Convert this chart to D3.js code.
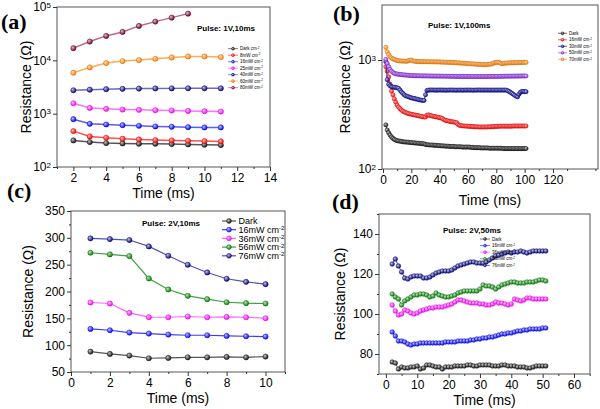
<!DOCTYPE html>
<html><head><meta charset="utf-8">
<script src="https://cdn.jsdelivr.net/npm/d3@7"></script>
<style>
body{margin:0;background:#fff}
svg{display:block}
text{font-family:"Liberation Sans",Arial,sans-serif;fill:#000}
</style>
</head><body>
<svg id="c" width="600" height="409"></svg>
<script>
// ---------------- DATA ----------------
// Panel (a): Pulse 1V,10ms (log scale)
const timeA = [2,3,4,5,6,7,8,9,10,11];
const labelsA = ["Dark","8mW","16mW","25mW","40mW","60mW","80mW"];
const aDark = [315,293,281,277,273,273,269,265,262,258];
const a8  = [471,374,353,339,329,320,315,310,306,302];
const a16 = [789,645,627,609,592,575,567,559,551,551];
const a25 = [1568,1282,1230,1195,1178,1161,1145,1128,1112,1096];
const a40 = [2750,2820,2880,2920,2950,2970,2980,2990,2990,2990];
const a60 = [5860,7370,8880,9680,10100,10700,11330,11830,11830,11490];
const a80 = [16900,22500,28700,34100,44200,53200,63200,75100];
const xTicksA = [2,4,6,8,10,12,14];
const yTicksA = [100,1000,10000,100000];

// Panel (b): Pulse 1V,100ms (log scale), t = 2..101 ms
const timeB = d3.range(2,102);
const labelsB = ["Dark","16mW cm","30mW cm","50mW cm","70mW cm"];
const bDark = [254,228,215,205,197,191,187,184,182,181,
 180,179,178,177,177,176,176,175,175,174,
 174,173,173,172,172,171,171,170,168,167,
 167,166,166,166,165,165,165,164,164,163,
 163,163,162,162,162,161,161,161,161,160,
 160,160,160,160,159,159,159,159,159,159,
 158,158,157,157,157,157,157,156,156,156,
 156,156,156,155,155,155,155,155,155,155,
 155,155,155,154,154,154,154,154,154,154,
 154,154,154,154,154,154,154,154,154,154];
const b16 = [869,790,700,600,520,480,440,410,385,370,
 358,348,340,334,330,326,322,320,318,316,
 314,312,310,308,306,304,302,300,300,312,
 314,310,308,306,304,302,300,298,296,294,
 290,284,280,278,276,274,272,271,270,268,
 266,256,252,250,249,248,248,247,247,246,
 246,245,245,244,244,244,243,243,243,243,
 243,243,244,244,244,245,245,246,246,246,
 247,247,247,247,247,247,247,247,247,247,
 248,248,248,248,248,248,248,248,248,248];
const b30 = [966,660,600,580,570,565,562,560,556,550,
 530,510,495,480,470,465,460,455,450,446,
 444,440,438,434,430,428,426,426,480,525,
 530,530,531,531,530,530,529,530,531,530,
 530,530,529,529,530,530,531,530,530,529,
 529,530,530,530,529,529,530,530,530,530,
 530,529,529,530,530,530,531,530,530,530,
 530,530,530,530,530,530,530,530,530,530,
 530,530,530,530,530,530,524,515,505,495,
 485,475,465,460,485,505,515,515,513,512];
const b50 = [1014,930,870,820,790,770,755,748,745,740,
 738,735,732,730,728,726,724,722,720,719,
 718,718,717,717,716,716,715,715,715,714,
 714,714,713,713,713,712,712,712,712,711,
 711,711,710,710,710,710,709,709,709,708,
 708,708,708,707,707,707,707,707,707,706,
 706,706,706,706,706,706,706,706,706,706,
 706,706,707,707,707,707,707,708,708,708,
 708,709,709,709,710,710,710,711,711,711,
 712,712,712,713,713,713,714,714,714,714];
const b70 = [1306,1190,1120,1072,1045,1025,1014,1000,990,985,
 982,980,978,976,975,974,990,998,1000,985,
 975,972,970,969,968,967,966,966,965,965,
 964,964,963,963,962,962,961,961,960,958,
 957,956,955,954,952,951,950,949,948,946,
 944,942,940,938,936,934,932,930,928,926,
 924,922,920,918,916,914,912,910,908,908,
 908,910,912,915,918,920,940,945,950,955,
 950,935,925,930,935,938,940,942,943,944,
 945,946,947,948,949,950,950,951,952,952];
const xTicksB = [0,20,40,60,80,100,120];
const yTicksB = [100,1000];

// Panel (c): Pulse 2V,10ms
const timeC = [1,2,3,4,5,6,7,8,9,10];
const labelsC = ["Dark","16mW cm","36mW cm","56mW cm","76mW cm"];
const cDark = [88,83.7,80.6,75.6,76.2,77.4,77.4,78,77.4,78.7];
const c16 = [130.3,127.8,123.5,121.6,119.8,118.5,118.5,117.3,116.6,116];
const c36 = [179.5,177.6,160.2,152.1,152,153.4,152,152.7,152,150.2];
const c56 = [272.2,269.1,266,224.3,203.8,192,185.7,180,178.3,177.6];
const c76 = [299,297.7,295.9,284,266.6,249.8,235.5,223.7,218,213.7];
const xTicksC = [0,2,4,6,8,10];
const yTicksC = [50,100,150,200,250,300,350];

// Panel (d): Pulse 2V,50ms, t = 2..51 ms
const timeD = d3.range(2,52);
const labelsD = ["Dark","16mW cm","36mW cm","56mW cm","76mW cm"];
const dDark = [76,75.5,72.5,73.5,73,73,73.5,73.5,74,72.5,
 73,74.5,74.5,74,73.5,73.5,72.5,73.5,73.5,73.5,
 74,74,74,74,74.5,74.5,74,74,74.5,74.5,
 74.5,74.5,74,74,74,74.5,74.5,74,74,74,
 73.5,73.5,73.5,73,73,73.5,74,74,74,74];
const d16 = [91,89,86.5,86.5,86,85,84.5,85,85,85.5,
 85.5,85.5,85.5,85.5,85.5,85.5,85.5,86,86,86,
 86,86.5,86.5,86.5,86.5,87,87,87.5,87.5,88,
 88,88.5,88.5,89,89.5,90,90,90.5,90.5,91,
 91.5,91.5,92,92,92.5,92.5,92.5,92.5,93,93];
const d36 = [104.5,101.5,99.5,100,102,101.5,100.5,100,100.5,101.5,
 102,102.5,103,103,103.5,103.5,103.5,104,104.5,105,
 106,107,107,106.5,106,105.5,105.5,105.5,105,105,
 104.5,104.5,105,106,105.5,105.5,105,104.5,105,107.5,
 107,106.5,107,108,108,107.5,107.5,107.5,107.5,107.5];
const d56 = [110,108.5,107.5,104.5,106.5,107.5,108.5,109.5,109.5,110,
 110,109.5,108.5,109,110.5,109.5,109,108.5,108.5,109,
 109.5,110.5,111,111.5,111.5,111.5,111.5,111.5,112.5,114.5,
 114,114,113.5,112.5,113.5,114.5,115,115.5,116,116,
 115.5,115.5,115.5,116,116,116,116.5,117,117,116.5];
const d76 = [125,127.5,124,121,118,117.5,118.5,119,119,119,
 118,118,118.5,119.5,120.5,121,121.5,121.5,121.5,122,
 123,124,124.5,125,125.5,126,126,125.5,125.5,125.5,
 126,127,128,129,129.5,130,130.5,131,130.5,131,
 131,131.5,131,130.5,131,131.5,131.5,131.5,131.5,131.5];
const xTicksD = [0,10,20,30,40,50,60];
const yTicksD = [80,100,120,140];

// ---------------- DRAW ----------------
const svg = d3.select("#c");
const defs = svg.append("defs");
function grad(color){
  const id = "g" + color.replace("#","");
  if (defs.select("#"+id).empty()){
    const g = defs.append("radialGradient").attr("id",id)
      .attr("cx","35%").attr("cy","35%").attr("r","70%");
    g.append("stop").attr("offset","0%").attr("stop-color", d3.interpolateRgb(color,"#fff")(0.75));
    g.append("stop").attr("offset","100%").attr("stop-color", color);
  }
  return "url(#"+id+")";
}
function marker(sel, color, r){
  sel.attr("r", r).attr("fill", grad(color))
    .attr("stroke", d3.color(color).darker(0.6)).attr("stroke-width", 0.5);
}
function supText(t, base, sup, supSize){
  t.append("tspan").text(base);
  t.append("tspan").attr("dy","-0.45em").attr("font-size", supSize).text(sup);
}

function panel(p){
  const g = svg.append("g");
  const x = d3.scaleLinear().domain(p.xDomain).range(p.xRange);
  const y = (p.log ? d3.scaleLog() : d3.scaleLinear()).domain(p.yDomain).range(p.yRange);

  // series
  p.series.forEach(s => {
    const pts = s.values.map((v,i) => [s.times[i], v]);
    g.append("path").datum(pts)
      .attr("d", d3.line().x(d => x(d[0])).y(d => y(d[1])))
      .attr("fill","none").attr("stroke", s.line).attr("stroke-width", p.lw);
    g.append("g").selectAll("circle").data(pts).join("circle")
      .attr("cx", d => x(d[0])).attr("cy", d => y(d[1]))
      .call(marker, s.color, p.r);
  });

  // frame
  const [x0,x1] = p.xRange, [y0,y1] = p.yRange;
  g.append("rect").attr("x",x0).attr("y",y1).attr("width",x1-x0).attr("height",y0-y1)
    .attr("fill","none").attr("stroke","#555").attr("stroke-width",1);

  // axes
  g.append("g").attr("transform",`translate(0,${y0})`)
    .call(d3.axisBottom(x).tickValues(p.xTicks).tickSize(4).tickPadding(2).tickFormat(d3.format("d")));
  g.append("g").attr("transform",`translate(0,${y0})`)
    .call(d3.axisBottom(x).tickValues(p.xMinor).tickSize(2).tickFormat(""));
  const ya = g.append("g").attr("transform",`translate(${x0},0)`)
    .call(d3.axisLeft(y).tickValues(p.yTicks).tickSize(4).tickPadding(2)
      .tickFormat(p.log ? () => "" : d3.format("d")));
  if (p.yMinor){
    g.append("g").attr("transform",`translate(${x0},0)`)
      .call(d3.axisLeft(y).tickValues(p.yMinor).tickSize(2).tickFormat(""));
  }
  g.selectAll(".domain").remove();
  g.selectAll(".tick line").attr("stroke","#333");
  g.selectAll(".tick text").attr("font-size", 12).attr("font-family","Liberation Sans, Arial, sans-serif");
  if (p.log){
    ya.selectAll(".tick text").each(function(d){
      const t = d3.select(this);
      supText(t, "10", String(Math.round(Math.log10(d))), "8px");
    });
  }

  // axis titles
  g.append("text").attr("x",(x0+x1)/2).attr("y",p.xTitleY).attr("text-anchor","middle")
    .attr("font-size",14).text("Time (ms)");
  g.append("text").attr("transform",`translate(${p.yTitleX},${(y0+y1)/2}) rotate(-90)`)
    .attr("text-anchor","middle").attr("dy","0.35em").attr("font-size",14).text(p.yTitle);

  // pulse text
  g.append("text").attr("x",p.pulse[0]).attr("y",p.pulse[1]).attr("font-size",8)
    .attr("font-weight","bold").text(p.pulseText);

  // panel label
  g.append("text").attr("x",p.tag[0]).attr("y",p.tag[1])
    .style("font-family","Liberation Serif, Times New Roman, serif")
    .attr("font-size",22).attr("font-weight","bold").text(p.tagText);

  // legend
  const L = p.legend;
  p.series.forEach((s,i) => {
    const yy = L.y + i*L.dy;
    g.append("line").attr("x1",L.x).attr("x2",L.x+L.len).attr("y1",yy).attr("y2",yy)
      .attr("stroke", s.line).attr("stroke-width", L.lw);
    g.append("circle").attr("cx",L.x+L.len/2).attr("cy",yy).call(marker, s.color, L.r);
    const t = g.append("text").attr("x",L.x+L.len+L.gap).attr("y",yy).attr("dy","0.35em")
      .attr("font-size",L.fs);
    if (s.label.endsWith("cm")) supText(t, s.label, "-2", (L.fs*0.65)+"px");
    else t.text(s.label);
  });
}

// Panel (a)
panel({
  xDomain:[1,14], xRange:[57,270], yDomain:[100,100000], yRange:[167,7], log:true,
  xTicks:xTicksA, xMinor:[1,3,5,7,9,11,13], yTicks:yTicksA,
  lw:1.5, r:2.6, xTitleY:198, yTitleX:26, yTitle:"Resistance (\u03A9)",
  pulse:[197,31], pulseText:"Pulse: 1V,10ms", tag:[1,29], tagText:"(a)",
  legend:{x:228,y:48.7,dy:6.5,len:10,gap:2,fs:4.5,r:1.4,lw:0.8},
  series:[
    {label:labelsA[0]+" cm", times:timeA, values:aDark, color:"#111111", line:"#555555"},
    {label:labelsA[1]+" cm", times:timeA, values:a8,  color:"#ff0000", line:"#ff5050"},
    {label:labelsA[2]+" cm", times:timeA, values:a16, color:"#0000ff", line:"#5a5aff"},
    {label:labelsA[3]+" cm", times:timeA, values:a25, color:"#ff00ff", line:"#ff70ff"},
    {label:labelsA[4]+" cm", times:timeA, values:a40, color:"#000080", line:"#6a6ac0"},
    {label:labelsA[5]+" cm", times:timeA, values:a60, color:"#ff8000", line:"#ffaa55"},
    {label:labelsA[6]+" cm", times:timeA.slice(0,a80.length), values:a80, color:"#700020", line:"#b86a8a"}
  ]
});

// Panel (b)
panel({
  xDomain:[-0.7,151.8], xRange:[382,598], yDomain:[100,3200], yRange:[169,5], log:true,
  xTicks:xTicksB, xMinor:[10,30,50,70,90,110,130,150], yTicks:yTicksB,
  lw:1, r:2.1, xTitleY:205, yTitleX:345, yTitle:"Resistance (\u03A9)",
  pulse:[428,28], pulseText:"Pulse: 1V,100ms", tag:[333,21], tagText:"(b)",
  legend:{x:558,y:33.3,dy:6.5,len:9,gap:2,fs:4.5,r:1.4,lw:0.8},
  series:[
    {label:labelsB[0], times:timeB, values:bDark, color:"#111111", line:"#444444"},
    {label:labelsB[1], times:timeB, values:b16, color:"#ff0000", line:"#ff3030"},
    {label:labelsB[2], times:timeB, values:b30, color:"#000090", line:"#3030b0"},
    {label:labelsB[3], times:timeB, values:b50, color:"#8a2be2", line:"#a060f0"},
    {label:labelsB[4], times:timeB, values:b70, color:"#ff8000", line:"#ffa040"}
  ]
});

// Panel (c)
panel({
  xDomain:[0,11], xRange:[71,285], yDomain:[50,350], yRange:[372,211], log:false,
  xTicks:xTicksC, xMinor:[1,3,5,7,9,11], yTicks:yTicksC,
  yMinor:[75,125,175,225,275,325],
  lw:1.2, r:2.6, xTitleY:403, yTitleX:28, yTitle:"Resistance  (\u03A9)",
  pulse:[142,226], pulseText:"Pulse: 2V,10ms", tag:[7,198], tagText:"(c)",
  legend:{x:222,y:221,dy:8.7,len:14,gap:2.5,fs:9,r:2.4,lw:1.2},
  series:[
    {label:labelsC[0], times:timeC, values:cDark, color:"#111111", line:"#555555"},
    {label:labelsC[1], times:timeC, values:c16, color:"#0000ff", line:"#3a3aff"},
    {label:labelsC[2], times:timeC, values:c36, color:"#ff00ff", line:"#ff66ff"},
    {label:labelsC[3], times:timeC, values:c56, color:"#008000", line:"#40a040"},
    {label:labelsC[4], times:timeC, values:c76, color:"#000080", line:"#5050b0"}
  ]
});

// Panel (d)
panel({
  xDomain:[-2.2,65.1], xRange:[379,590], yDomain:[70,150], yRange:[374,214], log:false,
  xTicks:xTicksD, xMinor:[5,15,25,35,45,55,65], yTicks:yTicksD,
  yMinor:[70,90,110,130,150],
  lw:1, r:2.3, xTitleY:405, yTitleX:340, yTitle:"Resistance (\u03A9)",
  pulse:[443,233], pulseText:"Pulse: 2V,50ms", tag:[332,209], tagText:"(d)",
  legend:{x:480,y:239,dy:6.6,len:10,gap:2,fs:4.5,r:1.4,lw:0.8},
  series:[
    {label:labelsD[0], times:timeD, values:dDark, color:"#111111", line:"#555555"},
    {label:labelsD[1], times:timeD, values:d16, color:"#0000ff", line:"#4a4aff"},
    {label:labelsD[2], times:timeD, values:d36, color:"#ff00ff", line:"#ff66ff"},
    {label:labelsD[3], times:timeD, values:d56, color:"#008000", line:"#40a040"},
    {label:labelsD[4], times:timeD, values:d76, color:"#000080", line:"#5050b0"}
  ]
});
</script>
</body></html>
